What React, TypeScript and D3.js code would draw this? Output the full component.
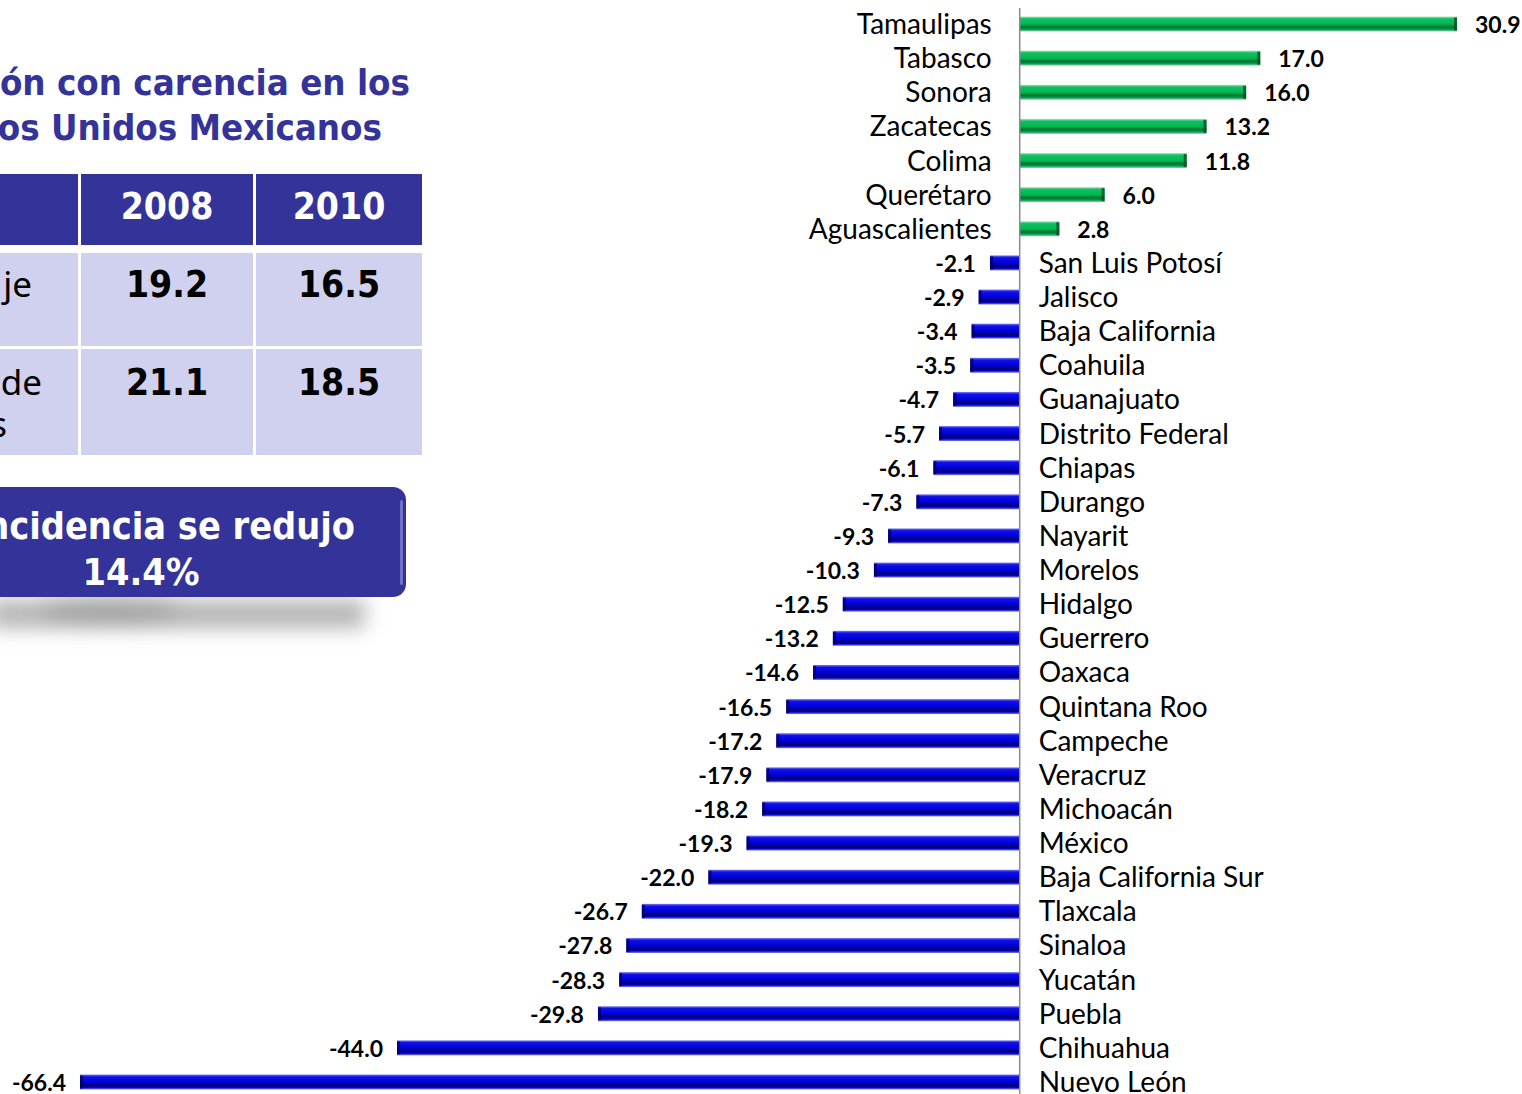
import React from "react";
import * as d3 from "d3";

const states = [
  "Tamaulipas", "Tabasco", "Sonora", "Zacatecas", "Colima", "Querétaro", "Aguascalientes",
  "San Luis Potosí", "Jalisco", "Baja California", "Coahuila", "Guanajuato", "Distrito Federal",
  "Chiapas", "Durango", "Nayarit", "Morelos", "Hidalgo", "Guerrero", "Oaxaca", "Quintana Roo",
  "Campeche", "Veracruz", "Michoacán", "México", "Baja California Sur", "Tlaxcala", "Sinaloa",
  "Yucatán", "Puebla", "Chihuahua", "Nuevo León",
];
const changes = [
  30.9, 17.0, 16.0, 13.2, 11.8, 6.0, 2.8,
  -2.1, -2.9, -3.4, -3.5, -4.7, -5.7,
  -6.1, -7.3, -9.3, -10.3, -12.5, -13.2, -14.6, -16.5,
  -17.2, -17.9, -18.2, -19.3, -22.0, -26.7, -27.8,
  -28.3, -29.8, -44.0, -66.4,
];

const titleLines = ["ón con carencia en los", "os Unidos Mexicanos"];
const tableYears = ["2008", "2010"];
const tableRowLabels = [["je"], ["de", "s"]];
const tableValues = [["19.2", "16.5"], ["21.1", "18.5"]];
const calloutLines = ["ncidencia se redujo", "14.4%"];

const W = 1522;
const H = 1094;
const NAVY = "#333399";
const LAV = "#d0d0ef";

export default function App() {
  const x = d3.scaleLinear().domain([-66.4, 30.9]).range([80, 1457]);
  const y = d3.scalePoint<string>().domain(states).range([24, 1082]);
  const x0 = x(0);
  const barH = 15;
  const labelFont = "Lato, 'Noto Sans', sans-serif";
  const bold = "'DejaVu Sans', Verdana, sans-serif";

  return (
    <svg width={W} height={H} style={{ position: "absolute", left: 0, top: 0, background: "#fff" }}>
      <defs>
        <linearGradient id="gGreen" x1="0" y1="0" x2="0" y2="1">
          <stop offset="0" stopColor="#a6e6be" />
          <stop offset="0.15" stopColor="#10c060" />
          <stop offset="0.5" stopColor="#00b852" />
          <stop offset="0.72" stopColor="#007034" />
          <stop offset="0.86" stopColor="#00a04a" />
          <stop offset="1" stopColor="#8ad8a8" />
        </linearGradient>
        <linearGradient id="gBlue" x1="0" y1="0" x2="0" y2="1">
          <stop offset="0" stopColor="#8080f0" />
          <stop offset="0.15" stopColor="#1010e8" />
          <stop offset="0.5" stopColor="#0000dd" />
          <stop offset="0.72" stopColor="#000078" />
          <stop offset="0.86" stopColor="#0000c0" />
          <stop offset="1" stopColor="#8080e0" />
        </linearGradient>
        <filter id="blur" x="-30%" y="-150%" width="160%" height="400%">
          <feGaussianBlur stdDeviation="10" />
        </filter>
      </defs>

      {/* Title */}
      <g fontFamily={bold} fontWeight="bold" fill={NAVY} fontSize={36.3} style={{ fontStretch: "condensed" }}>
        <text x={410} y={95} textAnchor="end">{titleLines[0]}</text>
        <text x={382} y={140} textAnchor="end">{titleLines[1]}</text>
      </g>

      {/* Table */}
      <g fontFamily={bold}>
        <rect x={0} y={174} width={78} height={71} fill={NAVY} />
        <rect x={81} y={174} width={172} height={71} fill={NAVY} />
        <rect x={256} y={174} width={166} height={71} fill={NAVY} />
        <rect x={0} y={253} width={78} height={93} fill={LAV} />
        <rect x={81} y={253} width={172} height={93} fill={LAV} />
        <rect x={256} y={253} width={166} height={93} fill={LAV} />
        <rect x={0} y={349} width={78} height={106} fill={LAV} />
        <rect x={81} y={349} width={172} height={106} fill={LAV} />
        <rect x={256} y={349} width={166} height={106} fill={LAV} />
        {tableYears.map((yr, i) => (
          <text key={yr} x={i === 0 ? 167 : 339} y={219} textAnchor="middle" fill="#fff" fontWeight="bold" fontSize={37} style={{ fontStretch: "condensed" }}>{yr}</text>
        ))}
        {tableValues.map((row, r) =>
          row.map((v, c) => (
            <text key={`${r}-${c}`} x={c === 0 ? 167 : 339} y={r === 0 ? 297 : 395} textAnchor="middle" fill="#000" fontWeight="bold" fontSize={37} style={{ fontStretch: "condensed" }}>{v}</text>
          ))
        )}
        <text x={32} y={297} textAnchor="end" fontSize={35} fill="#000" fontFamily="'Noto Sans', sans-serif">{tableRowLabels[0][0]}</text>
        <text x={42} y={395} textAnchor="end" fontSize={35} fill="#000" fontFamily="'Noto Sans', sans-serif">{tableRowLabels[1][0]}</text>
        <text x={7} y={437} textAnchor="end" fontSize={35} fill="#000" fontFamily="'Noto Sans', sans-serif">{tableRowLabels[1][1]}</text>
      </g>

      {/* Callout box with shadow */}
      <rect x={-10} y={600} width={375} height={28} fill="#9a9a9a" filter="url(#blur)" opacity={0.75} />
      <ellipse cx={110} cy={610} rx={70} ry={10} fill="#888" filter="url(#blur)" opacity={0.5} />
      <rect x={-20} y={487} width={426} height={110} rx={13} fill={NAVY} />
      <rect x={400} y={500} width={3} height={85} rx={1.5} fill="#8c8cd6" opacity={0.7} />
      <g fontFamily={bold} fontWeight="bold" fill="#fff" fontSize={37.5} style={{ fontStretch: "condensed" }}>
        <text x={355} y={539} textAnchor="end">{calloutLines[0]}</text>
        <text x={141} y={585} textAnchor="middle">{calloutLines[1]}</text>
      </g>

      {/* Bars */}
      {states.map((s, i) => {
        const v = changes[i];
        const cy = y(s)!;
        const xa = Math.min(x(v), x0);
        const w = Math.abs(x(v) - x0);
        const pos = v >= 0;
        return (
          <g key={s}>
            <rect x={xa} y={cy - barH / 2} width={w} height={barH} fill={pos ? "url(#gGreen)" : "url(#gBlue)"} />
            <rect x={pos ? x(v) - 3 : x(v)} y={cy - barH / 2 + 1} width={3} height={barH - 2} fill={pos ? "#004a20" : "#000060"} opacity={0.75} />
          </g>
        );
      })}

      {/* Axis line */}
      <line x1={x0} x2={x0} y1={8} y2={H} stroke="#8c8c8c" strokeWidth={1.5} />

      {/* Category labels */}
      <g fontFamily={labelFont} fontSize={28} fill="#000">
        {states.map((s, i) => {
          const v = changes[i];
          const cy = y(s)!;
          return v >= 0 ? (
            <text key={s} x={x0 - 28} y={cy + 10} textAnchor="end">{s}</text>
          ) : (
            <text key={s} x={x0 + 19} y={cy + 10} textAnchor="start">{s}</text>
          );
        })}
      </g>

      {/* Value labels */}
      <g fontFamily={labelFont} fontSize={23} fontWeight="bold" fill="#000">
        {states.map((s, i) => {
          const v = changes[i];
          const cy = y(s)!;
          return v >= 0 ? (
            <text key={s} x={x(v) + 18} y={cy + 9} textAnchor="start">{v.toFixed(1)}</text>
          ) : (
            <text key={s} x={x(v) - 14} y={cy + 9} textAnchor="end">{v.toFixed(1)}</text>
          );
        })}
      </g>
    </svg>
  );
}
